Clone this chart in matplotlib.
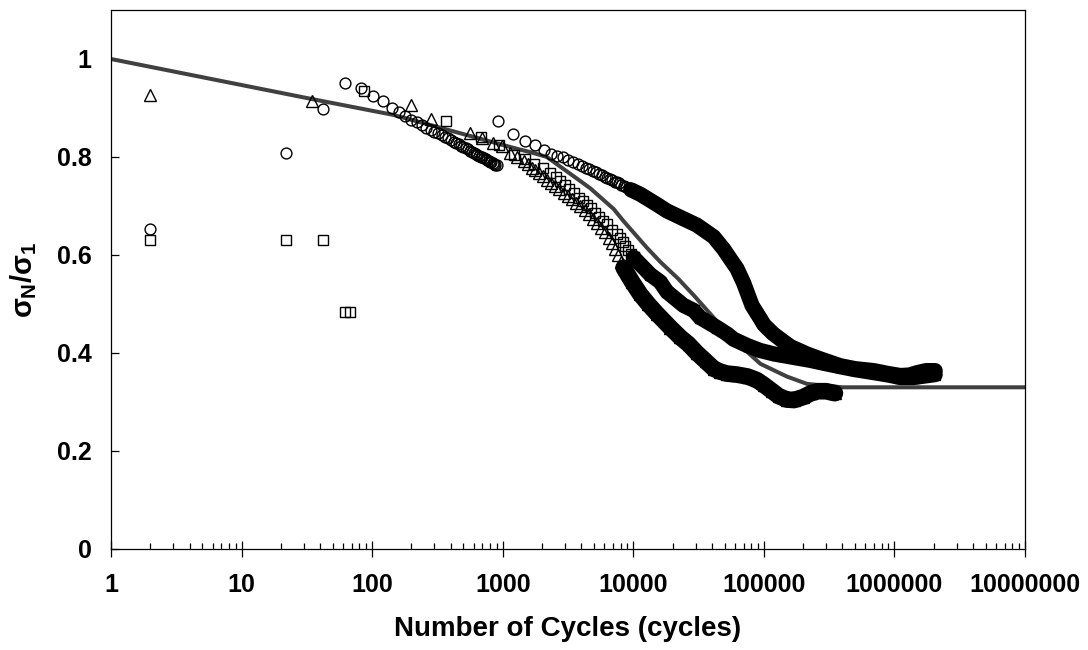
import matplotlib
matplotlib.use("Agg")
import matplotlib.pyplot as plt
from matplotlib.ticker import FixedLocator, LogLocator, NullFormatter

plt.rcParams['font.family'] = ['Liberation Sans', 'DejaVu Sans']
plt.rcParams['font.weight'] = 'bold'
plt.rcParams['mathtext.fontset'] = 'custom'
plt.rcParams['mathtext.rm'] = 'Liberation Sans:bold'
plt.rcParams['mathtext.it'] = 'Liberation Sans:bold'
plt.rcParams['mathtext.bf'] = 'Liberation Sans:bold'

# ---------------- data ----------------
# model curve (dark grey line)
model_N = [1, 35, 145, 300, 957, 1362, 1625, 2180, 3925, 4690, 7070, 8430,
           12700, 16100, 22000, 29000, 41300, 60000, 94000, 150000, 214000,
           400000, 1e7]
model_S = [1.0, 0.918, 0.886, 0.863, 0.826, 0.815, 0.810, 0.800, 0.751, 0.736,
           0.694, 0.669, 0.615, 0.586, 0.552, 0.518, 0.472, 0.425, 0.378,
           0.352, 0.337, 0.330, 0.330]

# circles - individual markers
circ_N = [2, 22, 42, 62, 82, 101, 122, 142, 162, 179,
          200, 220, 240, 260, 280, 300, 320, 340, 360, 380, 400, 420, 440,
          460, 480, 500, 520, 540, 560, 580, 600, 620, 640, 660, 680, 700,
          720, 740, 760, 780, 800, 820, 840, 860, 880, 900,
          919, 1197, 1469, 1753, 2055, 2340, 2620, 2900, 3190, 3470, 3760,
          4050, 4330, 4620, 4900, 5190, 5480, 5760, 6050, 6340, 6630, 6920,
          7210, 7500, 7790, 8080, 8430, 8800, 9200, 9600]
circ_S = [0.654, 0.808, 0.898, 0.951, 0.941, 0.925, 0.914, 0.901, 0.892, 0.883,
          0.876, 0.871, 0.865, 0.860, 0.856, 0.852, 0.848, 0.844, 0.841, 0.838,
          0.834, 0.831, 0.829, 0.826, 0.823, 0.821, 0.818, 0.816, 0.813, 0.811,
          0.809, 0.807, 0.805, 0.803, 0.801, 0.799, 0.797, 0.795, 0.794, 0.792,
          0.790, 0.789, 0.787, 0.786, 0.784, 0.783,
          0.873, 0.847, 0.832, 0.824, 0.815, 0.806, 0.803, 0.799, 0.793, 0.789,
          0.785, 0.782, 0.778, 0.775, 0.772, 0.769, 0.766, 0.763, 0.760, 0.757,
          0.755, 0.753, 0.750, 0.748, 0.746, 0.743, 0.741, 0.738, 0.736, 0.733]
# circles - dense band
circ_band_N = [9600, 11300, 15200, 18100, 22900, 30700, 41300, 49200,
               56000, 62300, 70000, 81200, 94000, 100000, 117000, 134000,
               160000, 214000, 270000, 385000, 500000, 694000, 900000,
               1110000, 1300000, 1500000, 1750000, 2050000]
circ_band_S = [0.733, 0.724, 0.703, 0.690, 0.677, 0.661, 0.637, 0.612,
               0.590, 0.572, 0.543, 0.497, 0.470, 0.458, 0.440, 0.428, 0.413,
               0.398, 0.388, 0.374, 0.368, 0.364, 0.358, 0.354, 0.355, 0.360,
               0.364, 0.364]

# squares - individual markers
sq_N = [2, 22, 42, 62, 67.5, 86, 367, 684, 929, 1211, 1490, 1725, 2020, 2310,
        2560, 2760, 3000, 3195, 3500, 3810, 4100, 4420, 4750, 5115, 5500,
        5900, 6290, 6900, 7500, 7900, 8300, 8700, 9100, 9600, 10060]
sq_S = [0.630, 0.630, 0.631, 0.484, 0.484, 0.934, 0.874, 0.841, 0.824, 0.805,
        0.795, 0.785, 0.777, 0.768, 0.760, 0.751, 0.743, 0.734, 0.726, 0.717,
        0.710, 0.703, 0.695, 0.686, 0.678, 0.670, 0.663, 0.652, 0.642, 0.634,
        0.626, 0.618, 0.611, 0.603, 0.595]
# squares - dense band
sq_band_N = [10060, 13500, 16100, 18100, 24300, 29000, 32600, 43800,
             52200, 58800, 75000, 94000, 120000, 169000, 227000, 300000,
             385000, 500000, 694000, 900000, 1110000, 1400000, 1700000,
             2050000]
sq_band_S = [0.595, 0.560, 0.545, 0.525, 0.497, 0.487, 0.472, 0.452,
             0.439, 0.428, 0.415, 0.405, 0.398, 0.391, 0.385, 0.378, 0.372,
             0.366, 0.360, 0.355, 0.350, 0.350, 0.353, 0.356]

# triangles - individual markers
tri_N = [2, 34.7, 199, 283, 557, 700, 850, 986, 1128, 1290, 1445, 1560, 1675,
         1780, 1880, 2030, 2180, 2350, 2525, 2720, 2925, 3160, 3390, 3650,
         3925, 4240, 4550, 4900, 5270, 5680, 6100, 6500, 6900, 7300, 7700,
         8100, 8430]
tri_S = [0.927, 0.914, 0.907, 0.878, 0.848, 0.838, 0.829, 0.822, 0.808, 0.800,
         0.791, 0.785, 0.778, 0.773, 0.768, 0.761, 0.754, 0.747, 0.741, 0.734,
         0.727, 0.720, 0.714, 0.707, 0.700, 0.692, 0.683, 0.674, 0.666, 0.656,
         0.646, 0.635, 0.624, 0.612, 0.600, 0.586, 0.574]
# triangles - dense band
tri_band_N = [8430, 9800, 11300, 13000, 15200, 19200, 22900,
              26500, 30700, 36000, 41300, 46300, 52200, 62000, 75000, 88000,
              100000, 116000, 130000, 150000, 170000, 200000, 230000, 260000,
              300000, 350000]
tri_band_S = [0.574, 0.545, 0.520, 0.500, 0.480, 0.452, 0.432,
              0.418, 0.400, 0.383, 0.368, 0.362, 0.358, 0.356, 0.352, 0.345,
              0.335, 0.322, 0.312, 0.305, 0.304, 0.310, 0.318, 0.322, 0.322,
              0.318]

y_ticks = [0, 0.2, 0.4, 0.6, 0.8, 1.0]
y_ticklabels = ['0', '0.2', '0.4', '0.6', '0.8', '1']
x_ticks = [1, 10, 100, 1000, 10000, 100000, 1000000, 10000000]
x_ticklabels = ['1', '10', '100', '1000', '10000', '100000', '1000000', '10000000']

# ---------------- figure ----------------
W, H = 1088, 650
fig = plt.figure(figsize=(W / 100, H / 100), dpi=100)
ax = fig.add_axes([111 / W, 1 - 549 / H, (1025 - 111) / W, (549 - 10) / H])
ax.set_xscale('log')

ax.plot(model_N, model_S, color='#404040', lw=2.9, zorder=2,
        solid_capstyle='butt')

mk = dict(linestyle='none', markerfacecolor='none', markeredgecolor='black',
          markeredgewidth=1.0, zorder=3)
band = dict(color='black', solid_capstyle='round', solid_joinstyle='round',
            zorder=3)

ax.plot(circ_N, circ_S, marker='o', markersize=7.8, **mk)
ax.plot(circ_band_N, circ_band_S, lw=11.0, **band)
ax.plot(circ_band_N, circ_band_S, marker='o', markersize=7.8, **mk)

ax.plot(sq_N, sq_S, marker='s', markersize=7.6, **mk)
ax.plot(sq_band_N, sq_band_S, lw=11.0, **band)
ax.plot(sq_band_N, sq_band_S, marker='s', markersize=7.6, **mk)

ax.plot(tri_N, tri_S, marker='^', markersize=8.4, **mk)
ax.plot(tri_band_N, tri_band_S, lw=12.0, **band)
ax.plot(tri_band_N, tri_band_S, marker='^', markersize=8.4, **mk)

ax.set_xlim(1, 1e7)
ax.set_ylim(0, 1.1)

for s in ax.spines.values():
    s.set_linewidth(0.9)
    s.set_color('black')

ax.xaxis.set_major_locator(FixedLocator(x_ticks))
ax.set_xticklabels(x_ticklabels)
ax.xaxis.set_minor_locator(LogLocator(base=10, subs=range(2, 10), numticks=20))
ax.xaxis.set_minor_formatter(NullFormatter())
ax.set_yticks(y_ticks)
ax.set_yticklabels(y_ticklabels)

ax.tick_params(axis='x', which='major', direction='inout', length=11.5,
               width=0.9, labelsize=18, pad=11.5)
ax.tick_params(axis='x', which='minor', direction='in', length=4.5, width=0.9)
ax.tick_params(axis='y', which='major', direction='in', length=5.8,
               width=0.9, labelsize=18, pad=14)
ax.tick_params(top=False, right=False, which='both')

ax.set_xlabel('Number of Cycles (cycles)', fontsize=20, fontweight='bold',
              labelpad=14)
ax.set_ylabel(r'$\sigma_N/\sigma_1$', fontsize=21, labelpad=13)

fig.savefig('out.png', dpi=100, facecolor='white')
